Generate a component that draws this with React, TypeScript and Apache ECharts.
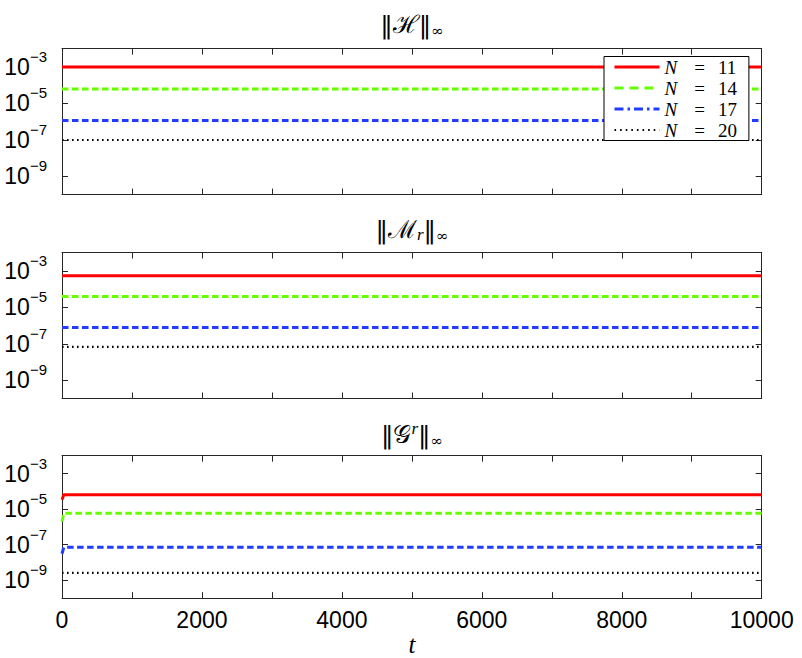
import React, { useEffect, useRef } from 'react';
import * as echarts from 'echarts';

// ---- data ----
const tValues = [0, 25, 10000];
const seriesNames = ['N = 11', 'N = 14', 'N = 17', 'N = 20'];

// ||H||_inf
const hN11 = [9.8e-4, 9.8e-4, 9.8e-4];
const hN14 = [6.2e-5, 6.2e-5, 6.2e-5];
const hN17 = [1.15e-6, 1.15e-6, 1.15e-6];
const hN20 = [9.8e-8, 9.8e-8, 9.8e-8];

// ||M_r||_inf
const mN11 = [5.3e-4, 5.3e-4, 5.3e-4];
const mN14 = [3.85e-5, 3.85e-5, 3.85e-5];
const mN17 = [7.7e-7, 7.7e-7, 7.7e-7];
const mN20 = [6.8e-8, 6.8e-8, 6.8e-8];

// ||G^r||_inf
const gN11 = [3.4e-5, 6.4e-5, 6.4e-5];
const gN14 = [2.0e-6, 5.8e-6, 5.8e-6];
const gN17 = [3.1e-8, 7.1e-8, 7.1e-8];
const gN20 = [2.6e-9, 2.6e-9, 2.6e-9];

const yTickValues = [1e-9, 1e-7, 1e-5, 1e-3];
const xLabelValues = [0, 2000, 4000, 6000, 8000, 10000];

const panelData = [
  [hN11, hN14, hN17, hN20],
  [mN11, mN14, mN17, mN20],
  [gN11, gN14, gN17, gN20],
];

const colors = ['#ff0000', '#66ff00', '#1f3cff', '#000000'];

const grids = [
  { left: 62, right: 40.3, top: 48.6, height: 146 },
  { left: 62, right: 40.3, top: 252.5, height: 146 },
  { left: 62, right: 40.3, top: 455.7, height: 146 },
];

const lineStyles: any[] = [
  { width: 3, type: 'solid' },
  { width: 3, type: [6.5, 3.5] },
  { width: 3, type: [6.5, 3.5] },
  { width: 2.2, type: [1.6, 3.4] },
];

const legendLineStyles: any[] = [
  { width: 3, type: 'solid' },
  { width: 3, type: [9, 6] },
  { width: 3, type: [9, 4, 2.5, 4] },
  { width: 2.2, type: [1.6, 4] },
];

const AXIS_COLOR = '#262626';

export default function App() {
  const ref = useRef<HTMLDivElement>(null);

  useEffect(() => {
    if (!ref.current) return;
    const chart = echarts.init(ref.current, null, { renderer: 'svg' });

    const xAxes: any[] = [];
    const yAxes: any[] = [];
    for (let i = 0; i < 3; i++) {
      xAxes.push({
        type: 'value',
        gridIndex: i,
        position: 'bottom',
        min: 0,
        max: 10000,
        interval: 1000,
        axisLine: { show: true, onZero: false, lineStyle: { color: AXIS_COLOR, width: 1 } },
        axisTick: { show: true, inside: true, length: 6, lineStyle: { color: AXIS_COLOR } },
        splitLine: { show: false },
        axisLabel: {
          show: i === 2,
          customValues: xLabelValues,
          margin: 10,
          fontFamily: '"Liberation Sans", Arial, sans-serif',
          fontSize: 23,
          color: '#000',
          formatter: (v: number) => String(v),
        },
        name: i === 2 ? 't' : '',
        nameLocation: 'middle',
        nameGap: 29,
        nameTextStyle: {
          fontFamily: '"Liberation Serif", "Times New Roman", serif',
          fontStyle: 'italic',
          fontSize: 25,
          color: '#000',
        },
      });
    }
    for (let i = 0; i < 3; i++) {
      xAxes.push({
        type: 'value',
        gridIndex: i,
        position: 'top',
        min: 0,
        max: 10000,
        interval: 1000,
        axisLine: { show: true, onZero: false, lineStyle: { color: AXIS_COLOR, width: 1 } },
        axisTick: { show: true, inside: true, length: 6, lineStyle: { color: AXIS_COLOR } },
        splitLine: { show: false },
        axisLabel: { show: false },
      });
    }
    for (let i = 0; i < 3; i++) {
      yAxes.push({
        type: 'log',
        logBase: 10,
        gridIndex: i,
        position: 'left',
        min: 1e-10,
        max: 1e-2,
        axisLine: { show: true, onZero: false, lineStyle: { color: AXIS_COLOR, width: 1 } },
        axisTick: { show: true, inside: true, length: 6, customValues: yTickValues, lineStyle: { color: AXIS_COLOR } },
        minorTick: { show: false },
        splitLine: { show: false },
        axisLabel: {
          show: true,
          customValues: yTickValues,
          margin: 15,
          color: '#000',
          formatter: (v: number) => {
            const e = Math.round(Math.log10(v));
            return `{b|10}{s|\u2212${-e}}`;
          },
          rich: {
            b: {
              fontFamily: '"Liberation Sans", Arial, sans-serif',
              fontSize: 23,
              lineHeight: 36,
              color: '#000',
            },
            s: {
              fontFamily: '"Liberation Sans", Arial, sans-serif',
              fontSize: 15,
              lineHeight: 15,
              verticalAlign: 'top',
              color: '#000',
            },
          },
        },
      });
    }
    for (let i = 0; i < 3; i++) {
      yAxes.push({
        type: 'log',
        logBase: 10,
        gridIndex: i,
        position: 'right',
        min: 1e-10,
        max: 1e-2,
        axisLine: { show: true, onZero: false, lineStyle: { color: AXIS_COLOR, width: 1 } },
        axisTick: { show: true, inside: true, length: 6, customValues: yTickValues, lineStyle: { color: AXIS_COLOR } },
        minorTick: { show: false },
        splitLine: { show: false },
        axisLabel: { show: false },
      });
    }

    const series: any[] = [];
    for (let p = 0; p < 3; p++) {
      for (let s = 0; s < 4; s++) {
        const vals = panelData[p][s];
        series.push({
          type: 'line',
          name: seriesNames[s],
          xAxisIndex: p,
          yAxisIndex: p,
          data: tValues.map((t, k) => [t, vals[k]]),
          showSymbol: false,
          symbol: 'none',
          clip: true,
          color: colors[s],
          lineStyle: { color: colors[s], ...lineStyles[s] },
          z: 2 + (3 - s),
        });
      }
    }

    const mathFont = '"DejaVu Serif", "Liberation Serif", serif';
    const titleRich = {
      a: { fontFamily: mathFont, fontSize: 25, lineHeight: 28, color: '#000' },
      sub: { fontFamily: mathFont, fontSize: 15, lineHeight: 15, verticalAlign: 'bottom', color: '#000' },
      subi: { fontFamily: '"Liberation Serif", serif', fontStyle: 'italic', fontSize: 17, lineHeight: 15, verticalAlign: 'bottom', color: '#000' },
      supi: { fontFamily: '"Liberation Serif", serif', fontStyle: 'italic', fontSize: 17, lineHeight: 15, verticalAlign: 'top', color: '#000' },
    };

    const titles = [
      { y: 24, text: '{a|\u2016\u210B\u2016}{sub|\u221E}' },
      { y: 229, text: '{a|\u2016\u2133}{subi|r}{a|\u2016}{sub|\u221E}' },
      { y: 434, text: '{a|\u2016\uD835\uDCA2}{supi|r}{a|\u2016}{sub|\u221E}' },
    ];

    chart.setOption({
      animation: false,
      backgroundColor: '#fff',
      grid: grids,
      xAxis: xAxes,
      yAxis: yAxes,
      legend: {
        show: true,
        orient: 'vertical',
        align: 'left',
        left: 604,
        top: 56.5,
        padding: [0, 12, 0, 9],
        itemGap: 0,
        itemWidth: 45,
        itemHeight: 14,
        borderColor: '#000',
        borderWidth: 1,
        borderRadius: 0,
        backgroundColor: '#fff',
        selectedMode: false,
        z: 10,
        data: seriesNames.map((n, i) => ({
          name: n,
          lineStyle: { color: colors[i], ...legendLineStyles[i] },
          itemStyle: { color: 'rgba(0,0,0,0)', borderWidth: 0, opacity: 0 },
        })),
        formatter: (name: string) => `{n|N}{e|=}{v|${name.split('= ')[1]}}`,
        textStyle: {
          color: '#000',
          fontSize: 19,
          lineHeight: 21,
          rich: {
            n: { fontFamily: '"Liberation Serif", serif', fontStyle: 'italic', fontSize: 19, lineHeight: 21, padding: [0, 17, 0, 0], color: '#000' },
            e: { fontFamily: '"Liberation Serif", serif', fontSize: 19, lineHeight: 21, padding: [0, 13, 0, 0], color: '#000' },
            v: { fontFamily: '"Liberation Serif", serif', fontSize: 19, lineHeight: 21, color: '#000' },
          },
        },
      },
      graphic: titles.map((t) => ({
        type: 'text',
        x: 412,
        y: t.y,
        style: {
          text: t.text,
          align: 'center',
          verticalAlign: 'middle',
          rich: titleRich,
        },
      })),
      series,
    });

    return () => chart.dispose();
  }, []);

  return (
    <div
      ref={ref}
      style={{ position: 'fixed', left: 0, top: 0, width: 802, height: 658, background: '#fff' }}
    />
  );
}
